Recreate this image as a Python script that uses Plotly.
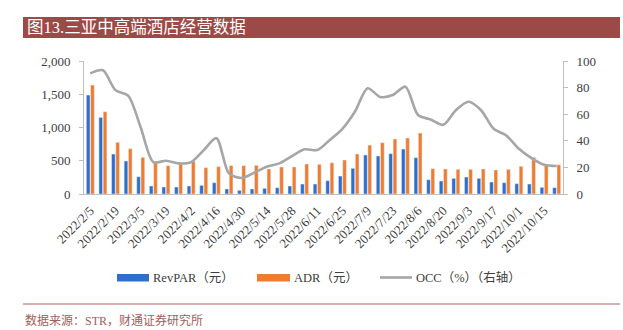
import plotly.graph_objects as go

weeks = ["2022/2/5", "2022/2/12", "2022/2/19", "2022/2/26", "2022/3/5", "2022/3/12", "2022/3/19",
         "2022/3/26", "2022/4/2", "2022/4/9", "2022/4/16", "2022/4/23", "2022/4/30", "2022/5/7",
         "2022/5/14", "2022/5/21", "2022/5/28", "2022/6/4", "2022/6/11", "2022/6/18", "2022/6/25",
         "2022/7/2", "2022/7/9", "2022/7/16", "2022/7/23", "2022/7/30", "2022/8/6", "2022/8/13",
         "2022/8/20", "2022/8/27", "2022/9/3", "2022/9/10", "2022/9/17", "2022/9/24", "2022/10/1",
         "2022/10/8", "2022/10/15", "2022/10/22"]

revpar = [1488, 1152, 601, 496, 260, 120, 105, 105, 120, 130, 170, 75, 55, 75,
          85, 95, 120, 150, 150, 200, 270, 386, 586, 571, 606, 676, 546, 215,
          195, 235, 255, 235, 180, 170, 155, 150, 100, 95]

adr = [1638, 1237, 777, 681, 551, 471, 426, 450, 490, 396, 411, 426, 426, 431,
       376, 406, 406, 451, 446, 470, 511, 601, 736, 771, 827, 842, 917, 381,
       376, 371, 371, 376, 361, 371, 416, 551, 440, 440]

occ = [90.7, 93, 78, 74, 50, 24, 25, 23, 24, 33, 42, 15.5, 12, 16,
       20.5, 23, 28.5, 33.6, 33, 40.6, 49, 62, 79.5, 73, 74.4, 80.7, 59.4, 56,
       52, 63, 69.4, 63, 49, 44, 34, 27, 22, 21]

tick_labels = weeks[::2]

series_names = ["RevPAR（元）", "ADR（元）", "OCC（%）（右轴）"]
title_text = "图13.三亚中高端酒店经营数据"
source_text = "数据来源：STR，财通证券研究所"

BLUE = "#2F6FCB"
ORANGE = "#EE7D31"
GREY = "#A6A6A6"
RED = "#9C4A47"
FONT = "Liberation Serif, Noto Sans CJK SC, serif"

fig = go.Figure()
fig.add_trace(go.Bar(x=weeks, y=revpar, name=series_names[0], marker_color=BLUE))
fig.add_trace(go.Bar(x=weeks, y=adr, name=series_names[1], marker_color=ORANGE))
fig.add_trace(go.Scatter(x=weeks, y=occ, name=series_names[2], yaxis="y2", mode="lines",
                         line=dict(color=GREY, width=2.6, shape="spline", smoothing=0.8)))

W, H = 623, 330
L, R, T, B = 84, 563, 61, 194


def px(x):
    return (x - L) / (R - L)


def py(y):
    return (B - y) / (B - T)


shapes = [
    dict(type="rect", xref="paper", yref="paper", x0=px(23), x1=px(620), y0=py(38), y1=py(17),
         fillcolor=RED, line=dict(width=0), layer="below"),
    dict(type="line", xref="paper", yref="paper", x0=px(23), x1=px(620), y0=py(304), y1=py(304),
         line=dict(color="#B0605C", width=1)),
    dict(type="rect", xref="paper", yref="paper", x0=px(117), x1=px(149), y0=py(281.5), y1=py(274),
         fillcolor=BLUE, line=dict(width=0)),
    dict(type="rect", xref="paper", yref="paper", x0=px(257), x1=px(290), y0=py(281.5), y1=py(274),
         fillcolor=ORANGE, line=dict(width=0)),
    dict(type="line", xref="paper", yref="paper", x0=px(380), x1=px(412), y0=py(277.5), y1=py(277.5),
         line=dict(color=GREY, width=2.6)),
]

annotations = [
    dict(text=title_text, xref="paper", yref="paper", x=px(25), y=py(27.5), xanchor="left",
         yanchor="middle", showarrow=False, font=dict(family=FONT, size=16.5, color="#FFFFFF")),
    dict(text=source_text, xref="paper", yref="paper", x=px(23), y=py(320), xanchor="left",
         yanchor="middle", showarrow=False, font=dict(family=FONT, size=12, color="#A0605C")),
    dict(text=series_names[0], xref="paper", yref="paper", x=px(151), y=py(277.5), xanchor="left",
         yanchor="middle", showarrow=False, font=dict(family=FONT, size=12.5, color="#404040")),
    dict(text=series_names[1], xref="paper", yref="paper", x=px(292), y=py(277.5), xanchor="left",
         yanchor="middle", showarrow=False, font=dict(family=FONT, size=12.5, color="#404040")),
    dict(text=series_names[2], xref="paper", yref="paper", x=px(414), y=py(277.5), xanchor="left",
         yanchor="middle", showarrow=False, font=dict(family=FONT, size=12.5, color="#404040")),
]

fig.update_layout(
    width=W, height=H,
    margin=dict(l=L, r=W - R, t=T, b=H - B, pad=0),
    paper_bgcolor="white", plot_bgcolor="white",
    showlegend=False,
    barmode="group", bargap=0.32, bargroupgap=0.14,
    font=dict(family=FONT, size=13, color="#404040"),
    shapes=shapes, annotations=annotations,
    xaxis=dict(type="category", tickmode="array", tickvals=tick_labels, ticktext=tick_labels,
               tickangle=-45, showline=True, linecolor="#BFBFBF", linewidth=1, ticks="",
               showgrid=False, ticklabelstandoff=3, tickfont=dict(size=13, color="#404040")),
    yaxis=dict(range=[0, 2000], dtick=500, tickformat=",", showline=True, linecolor="#BFBFBF",
               linewidth=1, ticks="outside", ticklen=4, tickcolor="#BFBFBF", showgrid=False,
               zeroline=False, ticklabelstandoff=6, tickfont=dict(size=13, color="#404040")),
    yaxis2=dict(range=[0, 100], dtick=20, overlaying="y", side="right", showline=True,
                linecolor="#BFBFBF", linewidth=1, ticks="outside", ticklen=4, tickcolor="#BFBFBF",
                showgrid=False, zeroline=False, ticklabelstandoff=6,
                tickfont=dict(size=13, color="#404040")),
)

fig.write_html("out.html")
